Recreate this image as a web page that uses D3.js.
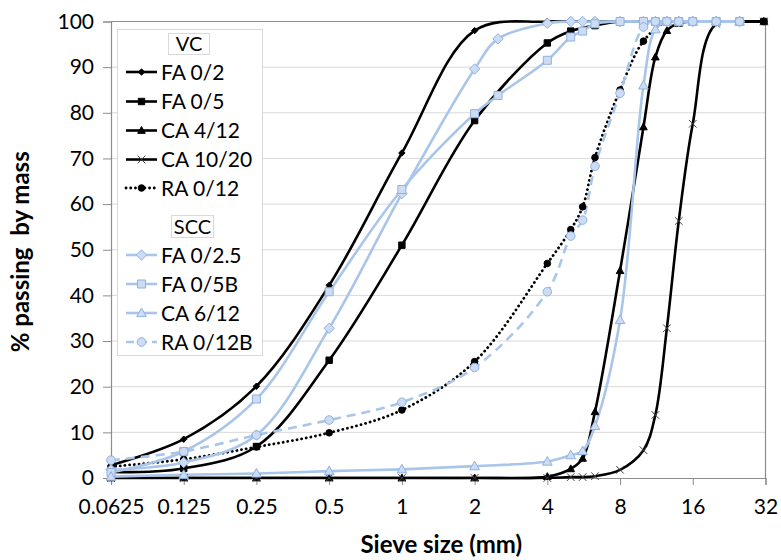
<!DOCTYPE html>
<html>
<head>
<meta charset="utf-8">
<script src="https://cdn.jsdelivr.net/npm/d3@7"></script>
<style>
  html, body { margin: 0; padding: 0; background: #fff; }
  svg { display: block; font-family: Lato, "Liberation Sans", sans-serif; }
</style>
</head>
<body>
<svg id="chart" width="781" height="560"></svg>
<script>
// ---------------- DATA ----------------
const xTicks = [0.0625, 0.125, 0.25, 0.5, 1, 2, 4, 8, 16, 32];
const xTickLabels = ["0.0625", "0.125", "0.25", "0.5", "1", "2", "4", "8", "16", "32"];
const yTicks = [0, 10, 20, 30, 40, 50, 60, 70, 80, 90, 100];

// VC aggregates
const fa02Sizes  = [0.0625, 0.125, 0.25, 0.5, 1, 2, 4, 8, 16, 31.5];
const fa02Values = [2.8, 8.5, 20.1, 42.2, 71.2, 98.0, 100, 100, 100, 100];

const fa05Sizes  = [0.0625, 0.125, 0.25, 0.5, 1, 2, 4, 5, 6.3, 8, 16, 31.5];
const fa05Values = [1.3, 2.1, 6.9, 25.8, 51.0, 78.3, 95.3, 97.9, 99.1, 100, 100, 100];

const ca412Sizes  = [0.0625, 0.125, 0.25, 0.5, 1, 2, 4, 5, 5.6, 6.3, 8, 10, 11.2, 12.5, 14, 16, 31.5];
const ca412Values = [0, 0, 0, 0, 0, 0, 0.3, 2.0, 4.3, 14.5, 45.4, 76.9, 92.2, 98.0, 99.6, 100, 100];

const ca1020Sizes  = [0.0625, 0.125, 0.25, 0.5, 1, 2, 4, 5, 5.6, 6.3, 8, 10, 11.2, 12.5, 14, 16, 20, 31.5];
const ca1020Values = [0, 0, 0, 0, 0, 0, 0, 0.2, 0.2, 0.4, 1.8, 6.1, 13.8, 32.8, 56.3, 77.6, 99.5, 100];

const ra012Sizes  = [0.0625, 0.125, 0.25, 0.5, 1, 2, 4, 5, 5.6, 6.3, 8, 10, 12.5, 16, 31.5];
const ra012Values = [2.5, 4.1, 6.8, 9.9, 14.9, 25.5, 47.0, 54.4, 59.4, 70.2, 85.0, 95.7, 100, 100, 100];

// SCC aggregates
const fa025Sizes  = [0.0625, 0.125, 0.25, 0.5, 1, 2, 2.5, 4, 5, 5.6, 6.3, 8, 10, 11.2, 12.5, 14, 16, 20, 25];
const fa025Values = [1.8, 3.4, 9.4, 32.8, 62.3, 89.6, 96.2, 99.6, 100, 100, 100, 100, 100, 100, 100, 100, 100, 100, 100];

const fa05bSizes  = [0.0625, 0.125, 0.25, 0.5, 1, 2, 2.5, 4, 5, 5.6, 6.3, 8, 10, 11.2, 12.5, 14, 16, 20, 25];
const fa05bValues = [1.2, 5.8, 17.3, 40.8, 63.2, 79.8, 83.8, 91.5, 96.6, 97.9, 99.5, 100, 100, 100, 100, 100, 100, 100, 100];

const ca612Sizes  = [0.0625, 0.125, 0.25, 0.5, 1, 2, 4, 5, 5.6, 6.3, 8, 10, 11.2, 12.5, 14, 16, 20, 25];
const ca612Values = [0.3, 0.7, 1.0, 1.5, 1.9, 2.6, 3.6, 5.0, 5.9, 11.4, 34.6, 86.0, 98.3, 100, 100, 100, 100, 100];

const ra012bSizes  = [0.0625, 0.125, 0.25, 0.5, 1, 2, 4, 5, 5.6, 6.3, 8, 10, 11.2, 12.5, 14, 16, 20, 25];
const ra012bValues = [3.9, 5.8, 9.4, 12.7, 16.6, 24.2, 40.8, 53.0, 56.5, 68.3, 84.3, 98.8, 100, 100, 100, 100, 100, 100];

const seriesNames = ["FA 0/2", "FA 0/5", "CA 4/12", "CA 10/20", "RA 0/12", "FA 0/2.5", "FA 0/5B", "CA 6/12", "RA 0/12B"];
const groupTitles = ["VC", "SCC"];

// ---------------- STYLE ----------------
const BLACK = "#000000";
const BLUE_LINE = "#a9c5ea";
const BLUE_FILL = "#cddcf2";
const BLUE_STROKE = "#8fb2e2";

const series = [
  {name: seriesNames[0], sizes: fa02Sizes,  values: fa02Values,  color: BLACK, dash: null, marker: "diamond", ms: 3.2, fill: BLACK, mstroke: BLACK},
  {name: seriesNames[1], sizes: fa05Sizes,  values: fa05Values,  color: BLACK, dash: null, marker: "square",  ms: 3.2, fill: BLACK, mstroke: BLACK},
  {name: seriesNames[2], sizes: ca412Sizes, values: ca412Values, color: BLACK, dash: null, marker: "triangle",ms: 3.8, fill: BLACK, mstroke: BLACK},
  {name: seriesNames[3], sizes: ca1020Sizes,values: ca1020Values,color: BLACK, dash: null, marker: "x",       ms: 3.8, fill: "none", mstroke: "#404040"},
  {name: seriesNames[4], sizes: ra012Sizes, values: ra012Values, color: BLACK, dash: "0.1 4.6", marker: "circle", ms: 3.3, fill: BLACK, mstroke: BLACK},
  {name: seriesNames[5], sizes: fa025Sizes, values: fa025Values, color: BLUE_LINE, dash: null, marker: "diamond", ms: 5.2, fill: BLUE_FILL, mstroke: BLUE_STROKE},
  {name: seriesNames[6], sizes: fa05bSizes, values: fa05bValues, color: BLUE_LINE, dash: null, marker: "square",  ms: 4.0, fill: BLUE_FILL, mstroke: BLUE_STROKE},
  {name: seriesNames[7], sizes: ca612Sizes, values: ca612Values, color: BLUE_LINE, dash: null, marker: "triangle",ms: 4.8, fill: BLUE_FILL, mstroke: BLUE_STROKE},
  {name: seriesNames[8], sizes: ra012bSizes,values: ra012bValues,color: BLUE_LINE, dash: "9 6", marker: "circle", ms: 4.3, fill: BLUE_FILL, mstroke: BLUE_STROKE}
];

function markerPath(type, r) {
  switch (type) {
    case "diamond": return `M0,${-r}L${r},0L0,${r}L${-r},0Z`;
    case "square": return `M${-r},${-r}H${r}V${r}H${-r}Z`;
    case "triangle": return `M0,${-r*1.05}L${r},${r*0.75}L${-r},${r*0.75}Z`;
    case "x": return `M${-r},${-r}L${r},${r}M${-r},${r}L${r},${-r}`;
    case "circle": return d3.arc()({innerRadius: 0, outerRadius: r, startAngle: 0, endAngle: 2*Math.PI});
  }
}

// ---------------- LAYOUT ----------------
const svg = d3.select("#chart");
const W = 781, H = 560;
const plot = {left: 111, right: 765.5, top: 21.5, bottom: 478};

const x = d3.scaleLog().base(2).domain([0.0625, 32]).range([plot.left, plot.right]);
const y = d3.scaleLinear().domain([0, 100]).range([plot.bottom, plot.top]);

svg.append("rect").attr("width", W).attr("height", H).attr("fill", "#fff");

// gridlines
svg.append("g").selectAll("line").data(yTicks.filter(d => d > 0)).join("line")
  .attr("x1", plot.left).attr("x2", plot.right)
  .attr("y1", d => y(d)).attr("y2", d => y(d))
  .attr("stroke", "#d9d9d9").attr("stroke-width", 1);

// plot border (top/right)
svg.append("path")
  .attr("d", `M${plot.left},${plot.top}H${plot.right}V${plot.bottom}`)
  .attr("fill", "none").attr("stroke", "#8c8c8c").attr("stroke-width", 1.2);

// Y axis
const yAxis = d3.axisLeft(y).tickValues(yTicks).tickSize(8).tickPadding(9).tickFormat(d3.format("d"));
const gy = svg.append("g").attr("transform", `translate(${plot.left},0)`).call(yAxis);
gy.select(".domain").attr("stroke", "#8c8c8c").attr("stroke-width", 1.2);
gy.selectAll(".tick line").attr("stroke", "#8c8c8c");
gy.selectAll("text").attr("font-size", 21).attr("fill", "#000").attr("font-family", "Lato, sans-serif");

// X axis
const xAxis = d3.axisBottom(x).tickValues(xTicks).tickSize(7).tickPadding(14)
  .tickFormat((d, i) => xTickLabels[i]);
const gx = svg.append("g").attr("transform", `translate(0,${plot.bottom})`).call(xAxis);
gx.select(".domain").attr("stroke", "#8c8c8c").attr("stroke-width", 1.2);
gx.selectAll(".tick line").attr("stroke", "#8c8c8c");
gx.selectAll("text").attr("font-size", 21).attr("fill", "#000").attr("font-family", "Lato, sans-serif");

// Axis titles
svg.append("text")
  .attr("x", (plot.left + plot.right) / 2 + 3).attr("y", 553)
  .attr("text-anchor", "middle").attr("font-size", 24).attr("font-weight", "bold")
  .attr("fill", "#000").text("Sieve size (mm)");
svg.append("text")
  .attr("transform", `translate(29,${(plot.top + plot.bottom) / 2 + 2}) rotate(-90)`)
  .attr("text-anchor", "middle").attr("font-size", 24).attr("font-weight", "bold")
  .attr("fill", "#000").style("white-space", "pre").text("% passing  by mass");

// clip
svg.append("defs").append("clipPath").attr("id", "clip")
  .append("rect").attr("x", plot.left - 2).attr("y", plot.top - 1.4)
  .attr("width", plot.right - plot.left + 4).attr("height", plot.bottom - plot.top + 2.8);

const line = d3.line().x(d => x(d[0])).y(d => y(d[1])).curve(d3.curveCatmullRom.alpha(0.5));
const gSeries = svg.append("g").attr("clip-path", "url(#clip)");
const gMarkers = svg.append("g");

series.forEach(s => {
  const pts = s.sizes.map((v, i) => [v, s.values[i]]);
  const p = gSeries.append("path").datum(pts)
    .attr("d", line).attr("fill", "none")
    .attr("stroke", s.color).attr("stroke-width", 2.6)
    .attr("stroke-linejoin", "round");
  if (s.dash) {
    p.attr("stroke-dasharray", s.dash);
    if (s.dash.startsWith("0.1")) p.attr("stroke-linecap", "round").attr("stroke-width", 2.8);
  }
  gMarkers.append("g").selectAll("path").data(pts).join("path")
    .attr("transform", d => `translate(${x(d[0])},${y(d[1])})`)
    .attr("d", markerPath(s.marker, s.ms))
    .attr("fill", s.fill)
    .attr("stroke", s.mstroke)
    .attr("stroke-width", 1);
});

// ---------------- LEGEND ----------------
const lg = svg.append("g");
lg.append("rect").attr("x", 117.5).attr("y", 29.5).attr("width", 145).attr("height", 326)
  .attr("fill", "#fff").attr("stroke", "#d9d9d9").attr("stroke-width", 1);

const titleBoxes = [
  {text: groupTitles[0], x: 168.5, y: 33.5, w: 41, h: 21},
  {text: groupTitles[1], x: 171.5, y: 215.5, w: 42, h: 22}
];
titleBoxes.forEach(t => {
  lg.append("rect").attr("x", t.x).attr("y", t.y).attr("width", t.w).attr("height", t.h)
    .attr("fill", "#fff").attr("stroke", "#d9d9d9");
  lg.append("text").attr("x", t.x + t.w / 2).attr("y", t.y + t.h / 2)
    .attr("dy", "0.36em").attr("text-anchor", "middle").attr("font-size", 20).attr("fill", "#000").text(t.text);
});

const rowY = [72, 101.5, 130.5, 159.5, 188, 255, 284, 313, 342];
series.forEach((s, i) => {
  const ry = rowY[i];
  const row = lg.append("g").attr("transform", `translate(0,${ry})`);
  const l = row.append("line").attr("x1", 126).attr("x2", 157).attr("y1", 0).attr("y2", 0)
    .attr("stroke", s.color).attr("stroke-width", 2.6);
  if (s.dash) {
    l.attr("stroke-dasharray", s.dash === "9 6" ? "8 5" : s.dash);
    if (s.dash.startsWith("0.1")) l.attr("stroke-linecap", "round").attr("stroke-width", 2.8);
  }
  row.append("path").attr("transform", "translate(141.5,0)")
    .attr("d", markerPath(s.marker, s.ms)).attr("fill", s.fill).attr("stroke", s.mstroke);
  row.append("text").attr("x", 161).attr("y", 0).attr("dy", "0.36em")
    .attr("font-size", 21).attr("fill", "#000").text(s.name);
});
</script>
</body>
</html>
